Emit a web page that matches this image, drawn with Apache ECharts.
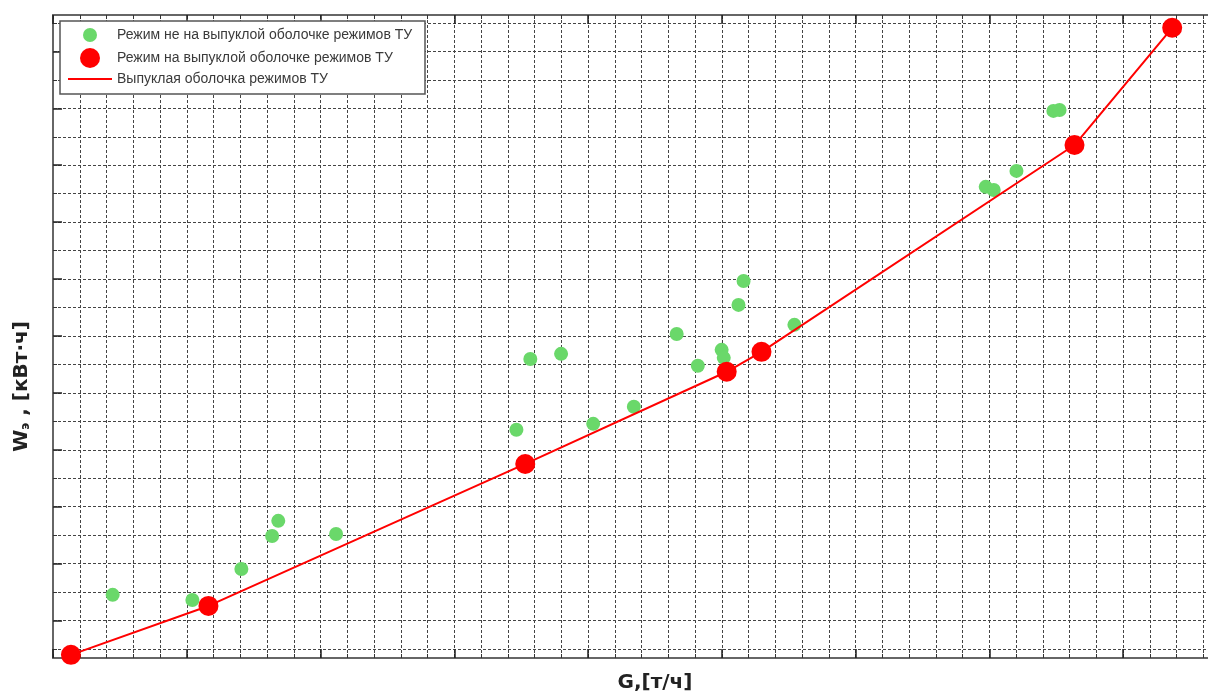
<!DOCTYPE html>
<html>
<head>
<meta charset="utf-8">
<script src="https://cdn.jsdelivr.net/npm/echarts@6/dist/echarts.min.js"></script>
<style>
html,body{margin:0;padding:0;background:#fff;overflow:hidden;}
#chart{width:1208px;height:698px;}
</style>
</head>
<body>
<div id="chart"></div>
<script>
// Series names
const nameOff = 'Режим не на выпуклой оболочке режимов ТУ';
const nameOn = 'Режим на выпуклой оболочке режимов ТУ';
const nameHull = 'Выпуклая оболочка режимов ТУ';

// Regimes not on the convex hull (G, W) in grid units
const offX = [2.23, 5.21, 7.04, 8.19, 8.42, 10.58, 17.32, 17.84, 18.99, 20.19, 21.71, 23.31, 24.10, 24.99, 25.07, 25.62, 25.81, 27.71, 34.86, 35.16, 36.01, 37.39, 37.62];
const offY = [1.90, 1.72, 2.81, 3.97, 4.50, 4.04, 7.70, 10.19, 10.37, 7.91, 8.51, 11.07, 9.95, 10.51, 10.23, 12.09, 12.93, 11.39, 16.24, 16.13, 16.80, 18.91, 18.94];

// Regimes on the convex hull
const onX = [0.67, 5.81, 17.65, 25.18, 26.48, 38.18, 41.83];
const onY = [-0.21, 1.51, 6.50, 9.74, 10.44, 17.71, 21.83];

// Axis extents and tick positions (grid units)
const xMin = 0, xMax = 45;
const yMin = -0.32, yMax = 22.28;
const yGridMin = 0, yGridMax = 22;
const yMajorTicks = [1, 3, 5, 7, 9, 11, 13, 15, 17, 19, 21];

const offData = offX.map((x, i) => [x, offY[i]]);
const onData = onX.map((x, i) => [x, onY[i]]);

const dash = {color: '#444', width: 1, type: [3, 2]};
const hidden = {show: false};
const font = 'Liberation Sans, Arial, sans-serif';
const iconSmall = 'path://M0,0M44,14M15,7A7,7,0,1,1,29,7A7,7,0,1,1,15,7Z';
const iconBig = 'path://M0,0M44,20M12,10A10,10,0,1,1,32,10A10,10,0,1,1,12,10Z';
const iconLine = 'path://M0,6L44,6L44,8L0,8Z';
const frameLine = {show: true, onZero: false, lineStyle: {color: '#666', width: 2}};
const majorTick = {color: '#222', width: 1.5};

const chart = echarts.init(document.getElementById('chart'));
chart.setOption({
  animation: false,
  backgroundColor: '#fff',
  grid: [
    {left: 53, right: -49, top: 15, bottom: 40, outerBoundsMode: 'none', containLabel: false},
    {left: 53, right: -49, top: 23, bottom: 49, outerBoundsMode: 'none', containLabel: false}
  ],
  xAxis: [
    {type: 'value', gridIndex: 0, position: 'bottom', min: xMin, max: xMax, interval: 1,
     axisLine: frameLine,
     axisTick: {show: true, inside: true, length: 4, lineStyle: {color: '#333'}},
     axisLabel: hidden, splitLine: {show: true, lineStyle: dash},
     name: 'G,[т/ч]', nameLocation: 'middle', nameGap: 15,
     nameTextStyle: {fontFamily: 'DejaVu Sans', fontWeight: 'bold', fontSize: 20, color: '#222', verticalAlign: 'top'}},
    {type: 'value', gridIndex: 0, position: 'bottom', min: xMin, max: xMax, interval: 5,
     axisLine: {show: false, onZero: false}, axisTick: {show: true, inside: true, length: 9, lineStyle: majorTick},
     axisLabel: hidden, splitLine: hidden},
    {type: 'value', gridIndex: 0, position: 'top', min: xMin, max: xMax, interval: 1,
     axisLine: frameLine,
     axisTick: {show: true, inside: true, length: 4, lineStyle: {color: '#333'}},
     axisLabel: hidden, splitLine: hidden},
    {type: 'value', gridIndex: 0, position: 'top', min: xMin, max: xMax, interval: 5,
     axisLine: {show: false, onZero: false}, axisTick: {show: true, inside: true, length: 9, lineStyle: majorTick},
     axisLabel: hidden, splitLine: hidden},
    {type: 'value', gridIndex: 1, min: xMin, max: xMax, show: false}
  ],
  yAxis: [
    {type: 'value', gridIndex: 0, position: 'left', min: yMin, max: yMax,
     axisLine: frameLine,
     axisTick: {show: true, inside: true, length: 9, customValues: yMajorTicks, lineStyle: majorTick},
     axisLabel: hidden, splitLine: hidden,
     name: '{w|W}{s|э}{w| , [кВт·ч]}', nameLocation: 'middle', nameGap: 21, nameRotate: 90,
     nameTextStyle: {padding: [0, 100, 0, 0],
       rich: {
         w: {fontFamily: 'DejaVu Sans', fontWeight: 'bold', fontSize: 20, color: '#222'},
         s: {fontFamily: 'DejaVu Sans', fontWeight: 'bold', fontSize: 12, color: '#222', verticalAlign: 'bottom'}
       }}},
    {type: 'value', gridIndex: 1, position: 'left', min: yGridMin, max: yGridMax, interval: 1,
     axisLine: {show: false, onZero: false}, axisTick: {show: true, inside: true, length: 4, lineStyle: {color: '#333'}},
     axisLabel: hidden, splitLine: {show: true, lineStyle: dash}}
  ],
  legend: [
    {data: [{name: nameOff, icon: iconSmall}], left: 68, top: 28, orient: 'vertical', padding: 0,
     itemWidth: 44, itemHeight: 14, selectedMode: false, z: 10,
     textStyle: {fontFamily: font, fontSize: 14, color: '#3a3a3a'}},
    {data: [{name: nameOn, icon: iconBig}], left: 68, top: 48, orient: 'vertical', padding: 0,
     itemWidth: 44, itemHeight: 20, selectedMode: false, z: 10,
     textStyle: {fontFamily: font, fontSize: 14, color: '#3a3a3a'}},
    {data: [{name: nameHull, icon: iconLine}], left: 68, top: 72, orient: 'vertical', padding: 0,
     itemWidth: 44, itemHeight: 14, selectedMode: false, z: 10,
     textStyle: {fontFamily: font, fontSize: 14, color: '#3a3a3a'}}
  ],
  graphic: [
    {type: 'rect', z: 3, shape: {x: 60, y: 21, width: 365, height: 73},
     style: {fill: '#fff', stroke: '#555', lineWidth: 1.5}}
  ],
  series: [
    {name: nameOff, type: 'scatter', xAxisIndex: 0, yAxisIndex: 0, data: offData,
     symbol: 'circle', symbolSize: 14, itemStyle: {color: '#6ad86a', opacity: 1}, z: 2},
    {name: nameHull, type: 'line', xAxisIndex: 0, yAxisIndex: 0, data: onData,
     symbol: 'none', lineStyle: {color: '#ff0000', width: 2}, itemStyle: {color: '#ff0000'}, z: 3},
    {name: nameOn, type: 'scatter', xAxisIndex: 0, yAxisIndex: 0, data: onData,
     symbol: 'circle', symbolSize: 20, itemStyle: {color: '#ff0000', opacity: 1}, z: 4}
  ]
});
</script>
</body>
</html>
